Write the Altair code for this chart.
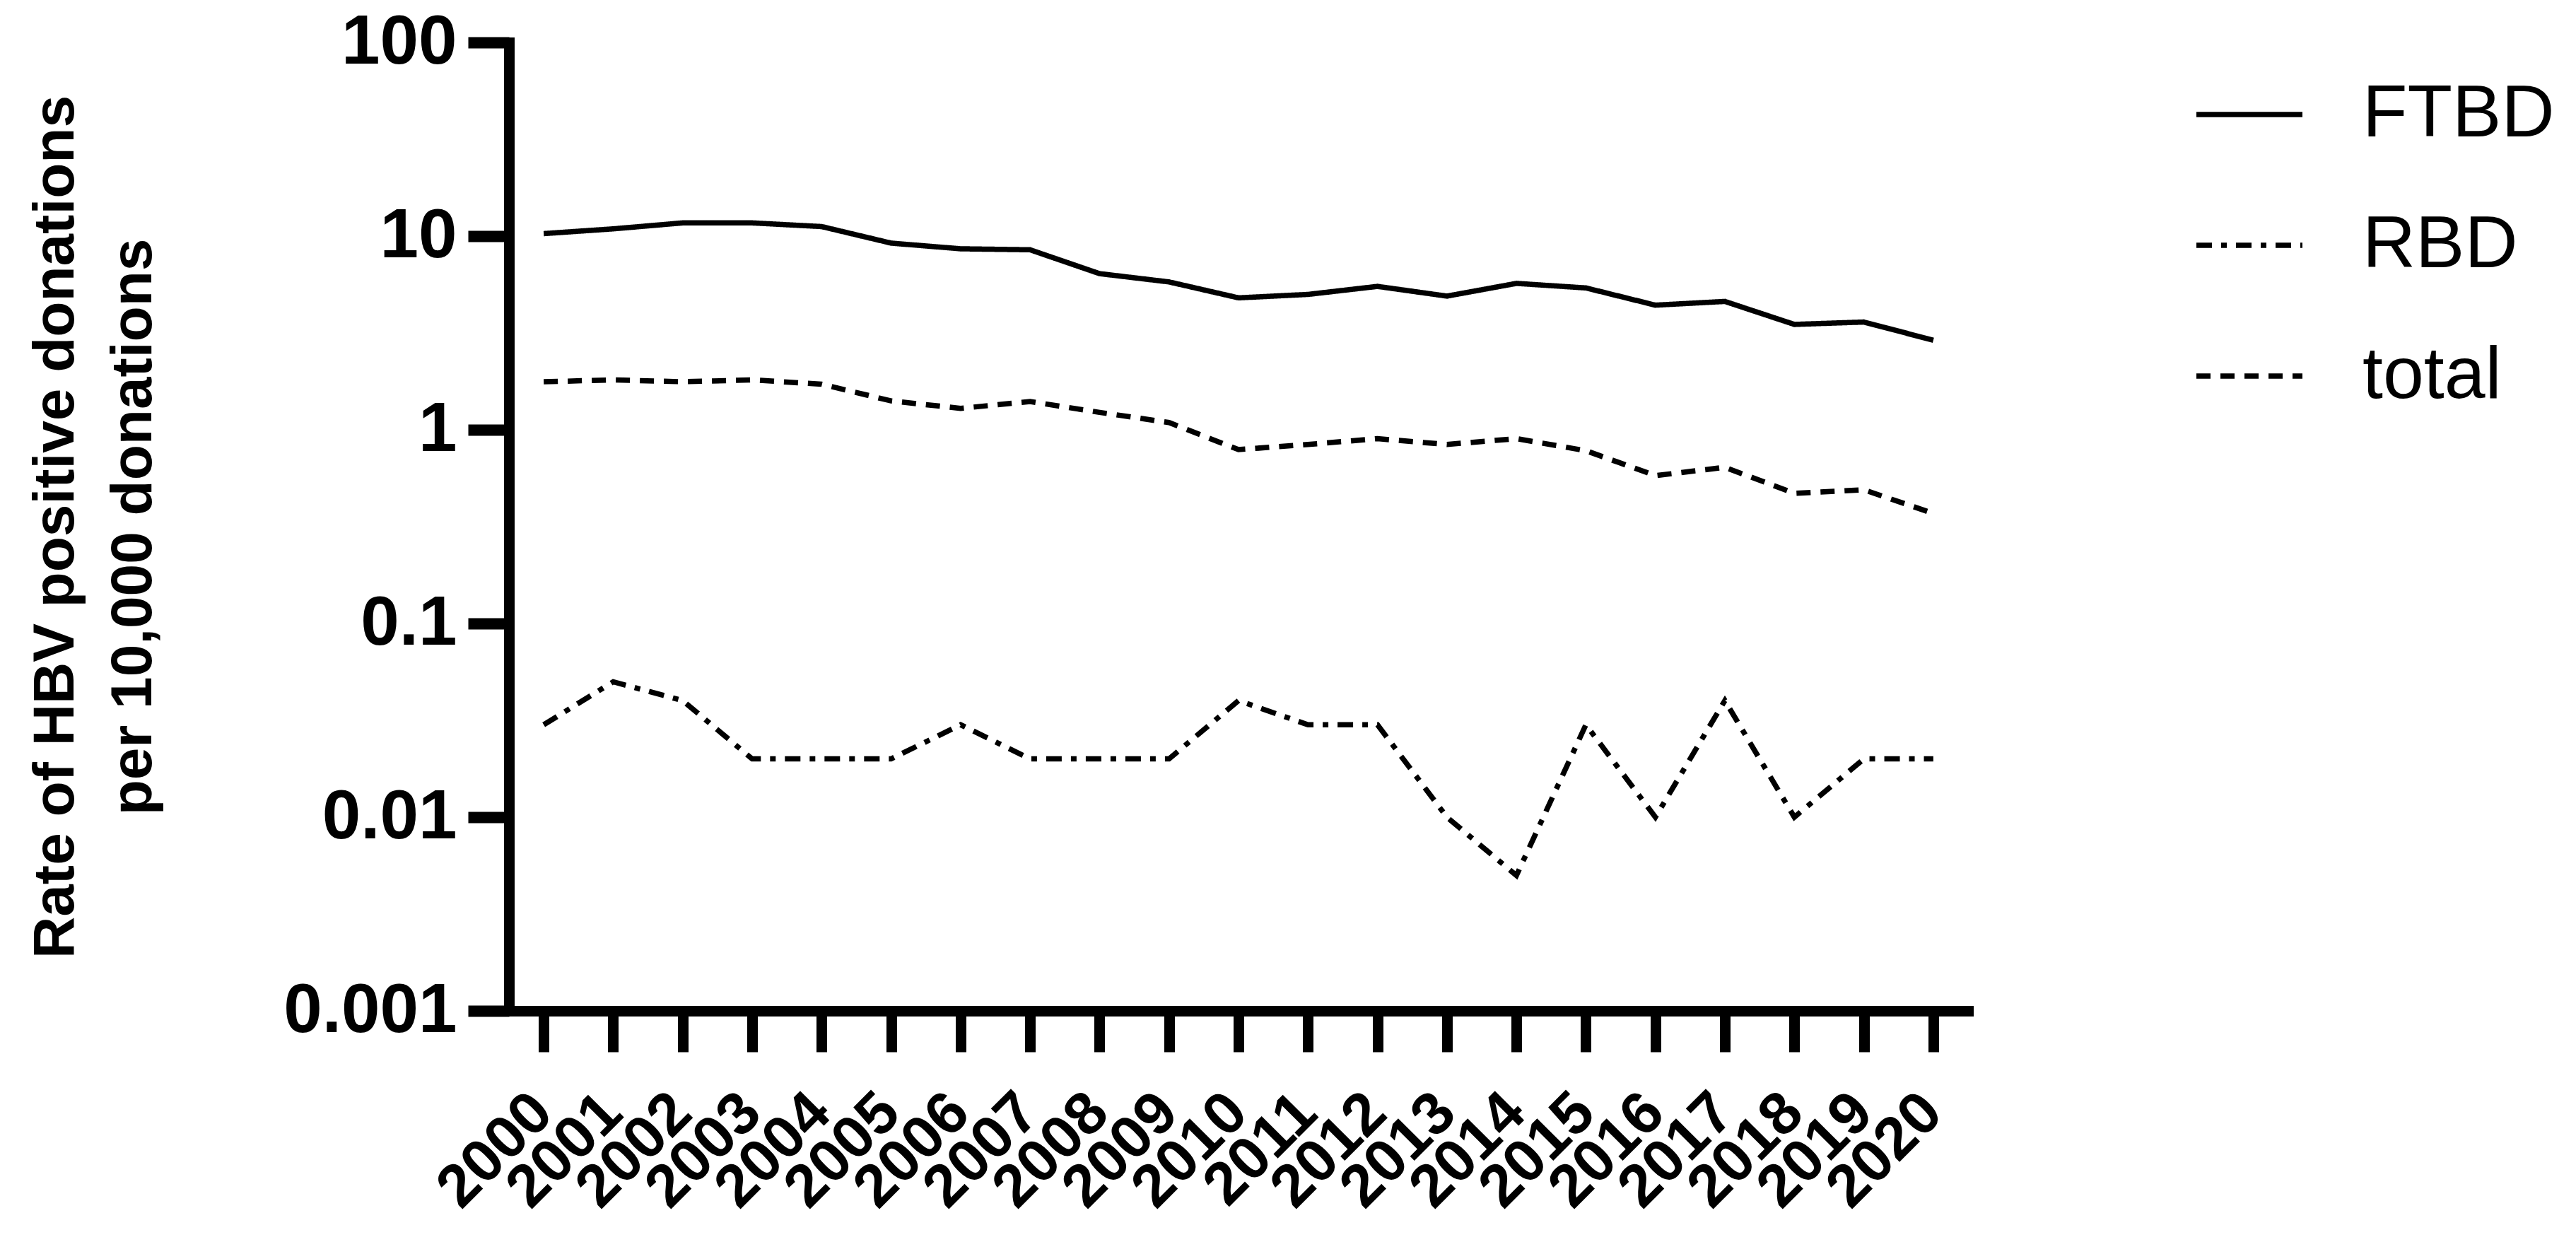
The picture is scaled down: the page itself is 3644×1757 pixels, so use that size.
import altair as alt
import pandas as pd

years = list(range(2000, 2021))
series_names = ["FTBD", "RBD", "total"]
ftbd = [10.3, 10.9, 11.7, 11.7, 11.2, 9.2, 8.6, 8.5, 6.4, 5.8, 4.8,
        5.0, 5.5, 4.9, 5.7, 5.4, 4.4, 4.6, 3.5, 3.6, 2.9]
rbd = [0.03, 0.05, 0.04, 0.02, 0.02, 0.02, 0.03, 0.02, 0.02, 0.02, 0.04,
       0.03, 0.03, 0.01, 0.005, 0.03, 0.01, 0.04, 0.01, 0.02, 0.02]
total = [1.77, 1.81, 1.77, 1.81, 1.72, 1.41, 1.29, 1.40, 1.23, 1.09, 0.79,
         0.84, 0.90, 0.84, 0.90, 0.78, 0.58, 0.64, 0.47, 0.49, 0.37]
y_ticks = [0.001, 0.01, 0.1, 1, 10, 100]
y_title = ["Rate of HBV positive donations", "per 10,000 donations"]

rows = []
for name, vals in zip(series_names, [ftbd, rbd, total]):
    for yr, v in zip(years, vals):
        rows.append({"year": yr, "rate": v, "group": name})
df = pd.DataFrame(rows)

FONT = "Liberation Sans, Arial, sans-serif"

chart = alt.Chart(df).mark_line(
    color="black", strokeWidth=7.5, strokeCap="butt", strokeJoin="miter"
).encode(
    x=alt.X("year:Q",
            scale=alt.Scale(domain=[1999.5, 2020.5], nice=False, zero=False),
            axis=alt.Axis(values=years, format="d", title=None,
                          labelAngle=-45, labelAlign="right", labelBaseline="middle",
                          labelFont=FONT, labelFontWeight="bold", labelFontSize=85,
                          labelColor="black", labelPadding=72, labelOffset=-2,
                          labelLimit=2000,
                          labelOverlap=False, labelBound=False, labelFlush=False,
                          tickSize=58, tickWidth=15, tickColor="black",
                          domainWidth=15, domainColor="black", domainCap="square",
                          grid=False)),
    y=alt.Y("rate:Q",
            scale=alt.Scale(type="log", domain=[0.001, 100], nice=False),
            axis=alt.Axis(values=y_ticks, format="~g", title=y_title,
                          titleFont=FONT, titleFontWeight="bold", titleFontSize=82,
                          titleColor="black", titleAngle=270, titleAlign="center",
                          titleBaseline="alphabetic", titleLineHeight=110,
                          titleX=-617, titleY=685, titleLimit=3000,
                          labelFont=FONT, labelFontWeight="bold", labelFontSize=98,
                          labelColor="black", labelPadding=16, labelLimit=2000,
                          labelOverlap=False, labelBound=False, labelFlush=False,
                          tickSize=58, tickWidth=16, tickColor="black",
                          domainWidth=15, domainColor="black", domainCap="square",
                          grid=False)),
    strokeDash=alt.StrokeDash(
        "group:N",
        scale=alt.Scale(domain=series_names,
                        range=[[1, 0], [22, 13, 8, 13], [20, 14]]),
        legend=alt.Legend(title=None, orient="none", legendX=2383, legendY=23,
                          symbolType="stroke", symbolSize=22500,
                          symbolStrokeWidth=7.5, symbolStrokeColor="black",
                          labelFont=FONT, labelFontSize=104, labelColor="black",
                          labelOffset=81, rowPadding=54, padding=0,
                          labelLimit=2000)),
).properties(
    width=2064,
    height=1370,
    background="white",
    autosize=alt.AutoSizeParams(type="none"),
    padding={"left": 712, "top": 52, "right": 840, "bottom": 300},
).configure_view(strokeWidth=0, stroke="transparent")

chart.save("out.html", embed_options={"renderer": "svg", "actions": False})
